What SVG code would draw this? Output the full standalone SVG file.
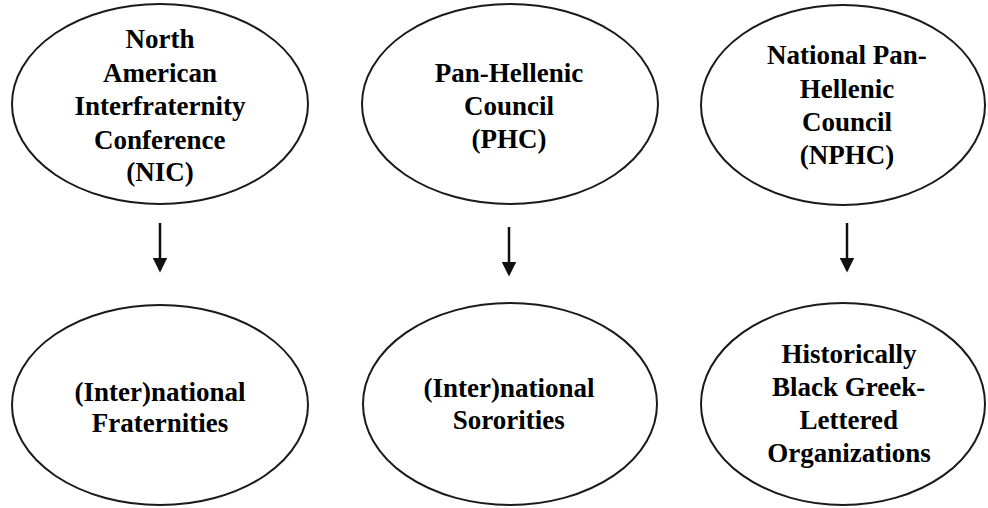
<svg xmlns="http://www.w3.org/2000/svg" width="988" height="508" viewBox="0 0 988 508">
<defs>
<marker id="ah" markerWidth="6" markerHeight="6" refX="5" refY="3" orient="auto" markerUnits="strokeWidth">
<path d="M0,0 L6,3 L0,6 Z" fill="#111"/>
</marker>
</defs>
<rect width="988" height="508" fill="#fff"/>
<g id="nic">
<ellipse cx="160" cy="104" rx="148" ry="100" fill="#fff" stroke="#1a1a1a" stroke-width="2"/>
<text x="125.5" y="48" font-family="Liberation Serif" font-weight="bold" font-size="27">North</text>
<text x="103" y="82" font-family="Liberation Serif" font-weight="bold" font-size="27">American</text>
<text x="74.5" y="115" font-family="Liberation Serif" font-weight="bold" font-size="27">Interfraternity</text>
<text x="94" y="149" font-family="Liberation Serif" font-weight="bold" font-size="27">Conference</text>
<text x="126.3" y="181" font-family="Liberation Serif" font-weight="bold" font-size="27">(NIC)</text>
</g>
<g id="phc">
<ellipse cx="510" cy="104" rx="148" ry="100" fill="#fff" stroke="#1a1a1a" stroke-width="2"/>
<text x="434.8" y="82" font-family="Liberation Serif" font-weight="bold" font-size="27">Pan-Hellenic</text>
<text x="464" y="115" font-family="Liberation Serif" font-weight="bold" font-size="27">Council</text>
<text x="471.5" y="148" font-family="Liberation Serif" font-weight="bold" font-size="27">(PHC)</text>
</g>
<g id="nphc">
<ellipse cx="843" cy="105" rx="142" ry="100" fill="#fff" stroke="#1a1a1a" stroke-width="2"/>
<text x="767.1" y="64" font-family="Liberation Serif" font-weight="bold" font-size="27">National Pan-</text>
<text x="799.8" y="98" font-family="Liberation Serif" font-weight="bold" font-size="27">Hellenic</text>
<text x="802" y="131" font-family="Liberation Serif" font-weight="bold" font-size="27">Council</text>
<text x="799.8" y="164" font-family="Liberation Serif" font-weight="bold" font-size="27">(NPHC)</text>
</g>
<g id="fraternities">
<ellipse cx="160" cy="405" rx="148" ry="100" fill="#fff" stroke="#1a1a1a" stroke-width="2"/>
<text x="74.5" y="401" font-family="Liberation Serif" font-weight="bold" font-size="27">(Inter)national</text>
<text x="91.8" y="432" font-family="Liberation Serif" font-weight="bold" font-size="27">Fraternities</text>
</g>
<g id="sororities">
<ellipse cx="510" cy="404" rx="147" ry="101" fill="#fff" stroke="#1a1a1a" stroke-width="2"/>
<text x="423.5" y="397" font-family="Liberation Serif" font-weight="bold" font-size="27">(Inter)national</text>
<text x="452.8" y="429" font-family="Liberation Serif" font-weight="bold" font-size="27">Sororities</text>
</g>
<g id="bglo">
<ellipse cx="843" cy="404" rx="142" ry="101" fill="#fff" stroke="#1a1a1a" stroke-width="2"/>
<text x="781.5" y="363" font-family="Liberation Serif" font-weight="bold" font-size="27">Historically</text>
<text x="772.1" y="396" font-family="Liberation Serif" font-weight="bold" font-size="27">Black Greek-</text>
<text x="799.5" y="429" font-family="Liberation Serif" font-weight="bold" font-size="27">Lettered</text>
<text x="767.2" y="462" font-family="Liberation Serif" font-weight="bold" font-size="27">Organizations</text>
</g>
<g id="connectors" stroke="#111" stroke-width="2.5">
<line x1="160" y1="223" x2="160" y2="270" marker-end="url(#ah)"/>
<line x1="509" y1="227" x2="509" y2="274" marker-end="url(#ah)"/>
<line x1="847" y1="223" x2="847" y2="270" marker-end="url(#ah)"/>
</g>
</svg>
